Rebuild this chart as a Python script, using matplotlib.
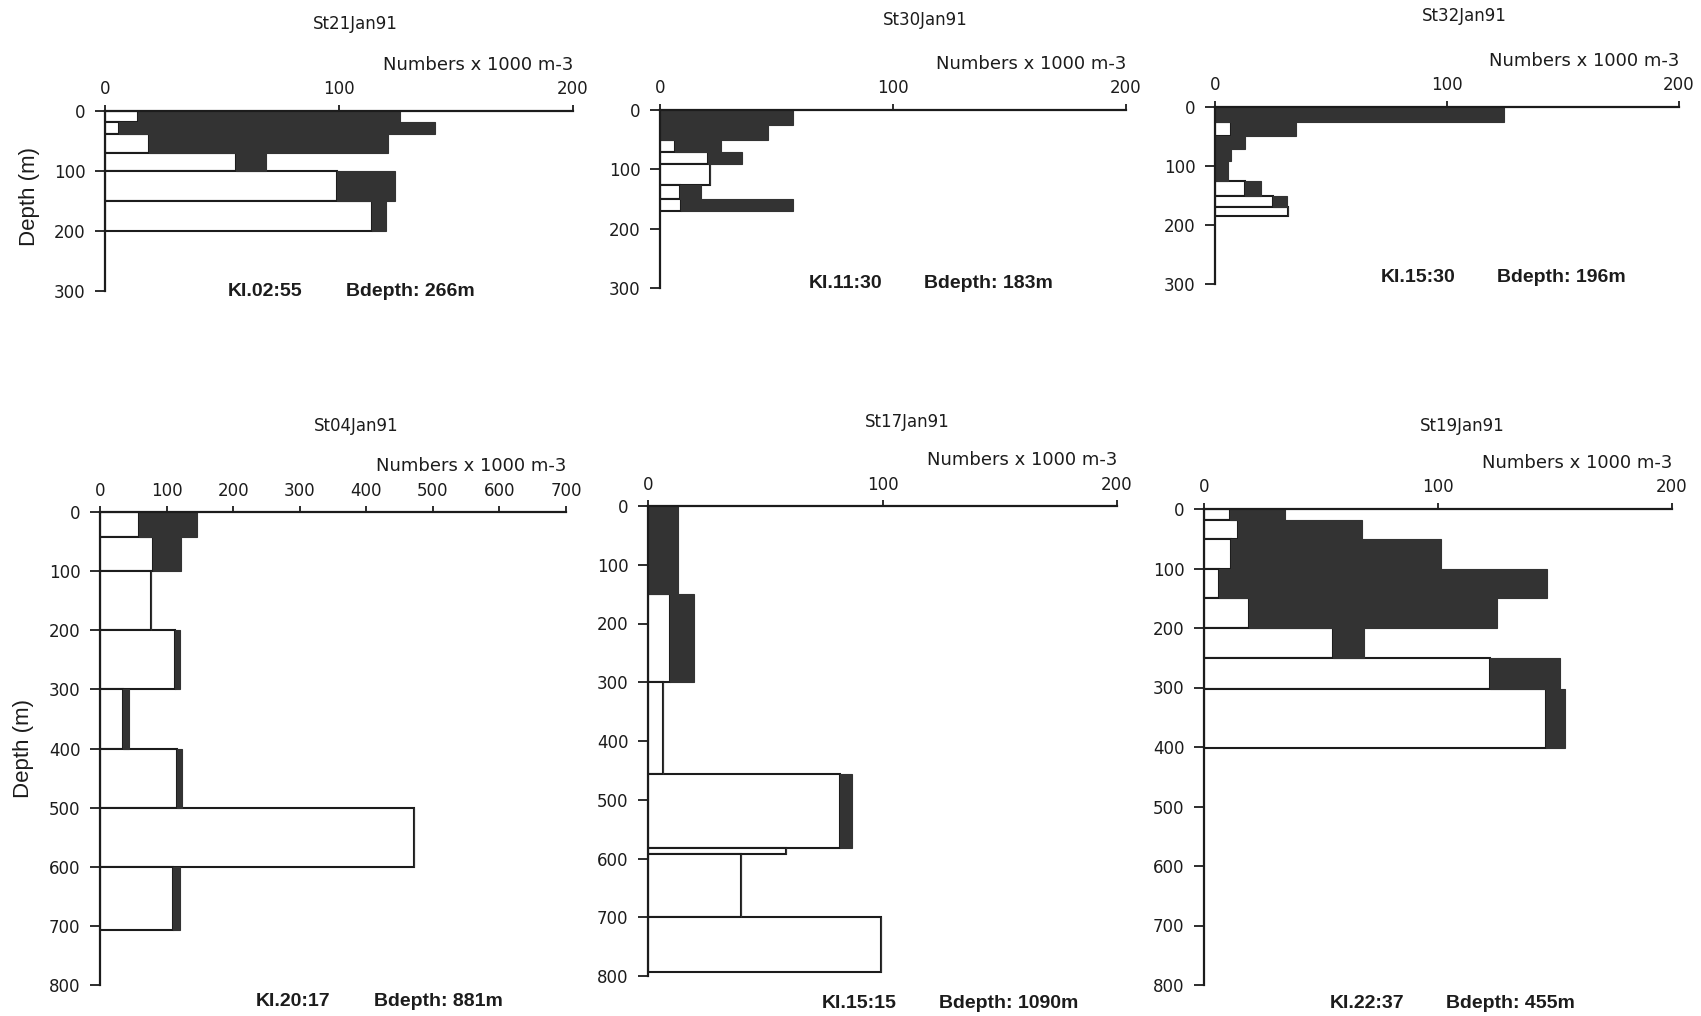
import numpy as np
import matplotlib
matplotlib.use("Agg")
import matplotlib.pyplot as plt

# ---- station data: depth-interval edges (m), white-segment and black-segment values (x1000 m-3)
st21_edges = [0, 19, 38, 70, 100, 150, 200]
st21_white = [14, 6, 19, 56, 99, 114]
st21_black = [112, 135, 102, 13, 25, 6]

st30_edges = [0, 25, 51, 70, 91, 126, 150, 171]
st30_white = [0, 0, 6.3, 20.5, 21.6, 8.4, 9.2]
st30_black = [57, 46.5, 20, 14.5, 0, 9, 48]

st32_edges = [0, 25, 50, 71, 92, 125, 150, 169, 185]
st32_white = [0, 6.7, 0, 0, 0, 13, 25, 31.5]
st32_black = [124.5, 28, 13, 7, 5.5, 7, 6, 0]

st04_edges = [0, 43, 100, 200, 300, 400, 500, 600, 707]
st04_white = [59, 80, 77, 112, 34, 115, 471, 110]
st04_black = [87, 42, 0, 8.5, 10, 8, 0, 10]

st17_edges = [0, 150, 300, 456, 582, 592, 700, 794]
st17_white = [0, 9.5, 6.6, 82, 58.7, 39.6, 99.2]
st17_black = [12.9, 10, 0, 4.8, 0, 0, 0]

st19_edges = [0, 19, 50, 100, 150, 200, 250, 302, 402]
st19_white = [11.2, 14.7, 11.5, 6.6, 19.3, 55.3, 122.2, 146.2]
st19_black = [23.4, 52.7, 89.9, 139.8, 106.1, 13.2, 29.9, 8.0]

titles = ["St21Jan91", "St30Jan91", "St32Jan91", "St04Jan91", "St17Jan91", "St19Jan91"]
times = ["KI.02:55", "KI.11:30", "KI.15:30", "KI.20:17", "KI.15:15", "KI.22:37"]
bdepths = ["Bdepth: 266m", "Bdepth: 183m", "Bdepth: 196m", "Bdepth: 881m", "Bdepth: 1090m", "Bdepth: 455m"]
x_ticks_small = [0, 100, 200]
x_ticks_wide = [0, 100, 200, 300, 400, 500, 600, 700]
y_ticks_shallow = [0, 100, 200, 300]
y_ticks_deep = [0, 100, 200, 300, 400, 500, 600, 700, 800]
x_label = "Numbers x 1000 m-3"
y_label = "Depth (m)"

W, H = 1701, 1016
INK = "#1c1c1c"
DARK = "#333333"

fig = plt.figure(figsize=(W / 100, H / 100), dpi=100)
fig.patch.set_facecolor("white")

# panel frames in pixels: (x_left, x_right, y_top, y_bottom)
frames = [
    (105, 573, 111, 291),
    (660, 1126, 110, 288),
    (1215, 1679, 107, 284),
    (100, 566, 512, 985),
    (648, 1117, 506, 976),
    (1204, 1672, 509, 985),
]
title_pos = [(355, 24), (925, 20), (1464, 16), (356, 426), (907, 422), (1462, 426)]
time_pos = [(265, 292), (846, 284), (1418, 278), (293, 1001), (859, 1003), (1367, 1003)]
bdepth_pos = [(410, 292), (988, 284), (1561, 278), (438, 1001), (1009, 1003), (1510, 1003)]

panels = [
    (st21_edges, st21_white, st21_black, x_ticks_small, y_ticks_shallow),
    (st30_edges, st30_white, st30_black, x_ticks_small, y_ticks_shallow),
    (st32_edges, st32_white, st32_black, x_ticks_small, y_ticks_shallow),
    (st04_edges, st04_white, st04_black, x_ticks_wide, y_ticks_deep),
    (st17_edges, st17_white, st17_black, x_ticks_small, y_ticks_deep),
    (st19_edges, st19_white, st19_black, x_ticks_small, y_ticks_deep),
]


def fx(x):
    return x / W


def fy(y):
    return 1 - y / H


for i, (edges, white, black, xt, yt) in enumerate(panels):
    x0, x1, y0, y1 = frames[i]
    ax = fig.add_axes([fx(x0), fy(y1), fx(x1 - x0), (y1 - y0) / H])
    ax.set_facecolor("none")

    e = np.asarray(edges, dtype=float)
    tops = e[:-1]
    heights = np.diff(e)
    w = np.asarray(white, dtype=float)
    b = np.asarray(black, dtype=float)

    ax.barh(tops, w, height=heights, align="edge", color="white",
            edgecolor=INK, linewidth=1.5, zorder=2)
    ax.barh(tops, b, left=w, height=heights, align="edge", color=DARK,
            edgecolor=DARK, linewidth=0.8, zorder=3)

    ax.set_xlim(xt[0], xt[-1])
    ax.set_ylim(yt[-1], yt[0])
    ax.set_xticks(xt)
    ax.set_yticks(yt)

    for side in ("right", "bottom"):
        ax.spines[side].set_visible(False)
    for side in ("top", "left"):
        ax.spines[side].set_linewidth(1.6)
        ax.spines[side].set_color(INK)
        ax.spines[side].set_zorder(4)

    ax.xaxis.set_ticks_position("top")
    ax.xaxis.set_label_position("top")
    ax.tick_params(axis="x", direction="out", length=4, width=1.3, pad=5,
                   labelsize=12, colors=INK)
    ax.tick_params(axis="y", direction="out", length=7, width=1.3, pad=7,
                   labelsize=12, colors=INK)

    fig.text(fx(title_pos[i][0]), fy(title_pos[i][1]), titles[i],
             ha="center", va="center", fontsize=12, color=INK,
             family="DejaVu Sans")
    fig.text(fx(x1), fy(y0 - 46), x_label, ha="right", va="center",
             fontsize=13, color=INK, family="DejaVu Sans")
    fig.text(fx(time_pos[i][0]), fy(time_pos[i][1]), times[i],
             ha="center", va="center", fontsize=14, fontweight="bold",
             color=INK, family="Liberation Sans")
    fig.text(fx(bdepth_pos[i][0]), fy(bdepth_pos[i][1]), bdepths[i],
             ha="center", va="center", fontsize=14, fontweight="bold",
             color=INK, family="Liberation Sans")

# shared depth labels for the two rows
fig.text(fx(29), fy(196), y_label, rotation=90, ha="center", va="center",
         fontsize=16, color=INK, family="Liberation Sans")
fig.text(fx(23), fy(748), y_label, rotation=90, ha="center", va="center",
         fontsize=16, color=INK, family="Liberation Sans")

fig.savefig("out.png", dpi=100, facecolor="white")
